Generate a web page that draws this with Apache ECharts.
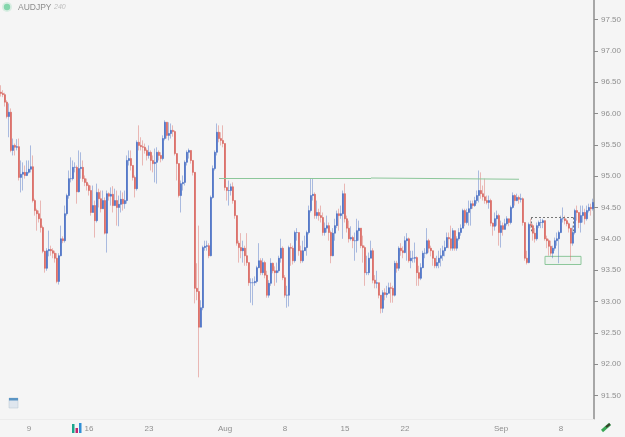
<!DOCTYPE html>
<html>
<head>
<meta charset="utf-8">
<style>
  html, body { margin: 0; padding: 0; background: #f5f5f5; }
  #chart { width: 625px; height: 437px; }
</style>
<script src="https://cdn.jsdelivr.net/npm/echarts@6/dist/echarts.min.js"></script>
</head>
<body>
<div id="chart"></div>
<script>
// AUDJPY, 240-minute candles. Each open continues from the previous close.
const firstOpen = 96.34;

const closes = [
  96.32,96.30,96.18,95.95,96.02,95.41,95.49,95.46,95.47,94.98,
  95.03,95.06,95.01,95.06,95.11,95.15,94.61,94.45,94.40,94.32,
  94.18,93.80,93.53,93.81,93.83,93.81,93.77,93.69,93.32,93.73,
  94.00,93.97,94.40,94.69,94.96,94.96,95.14,95.14,94.75,95.12,
  95.14,94.96,94.90,94.85,94.77,94.42,94.53,94.29,94.74,94.64,
  94.48,94.61,94.09,94.72,94.68,94.71,94.53,94.61,94.50,94.55,
  94.63,94.56,94.61,95.25,95.28,95.17,94.98,94.80,95.54,95.49,
  95.47,95.46,95.41,95.33,95.38,95.25,95.20,95.22,95.38,95.33,
  95.28,95.60,95.86,95.65,95.68,95.73,95.71,95.36,95.20,94.69,
  94.88,94.90,95.22,95.38,95.41,95.25,95.06,93.21,93.16,92.59,
  92.90,93.86,93.88,93.89,93.73,94.66,95.12,95.38,95.70,95.60,
  95.57,95.52,94.82,94.77,94.77,94.83,94.61,94.37,93.93,93.86,
  93.81,93.85,93.73,93.62,93.30,93.30,93.30,93.32,93.54,93.65,
  93.46,93.62,93.42,93.10,93.29,93.61,93.49,93.46,93.49,93.69,
  93.85,93.38,93.10,93.10,93.86,93.85,93.65,94.10,94.10,93.81,
  93.65,93.81,93.86,94.10,94.45,94.69,94.71,94.37,94.42,94.37,
  94.34,94.10,94.17,94.21,94.10,93.73,94.09,94.21,94.40,94.37,
  94.40,94.72,94.32,94.17,94.00,94.02,93.97,93.97,94.13,94.17,
  93.89,93.86,93.46,93.46,93.69,93.81,93.34,93.29,93.30,93.10,
  92.89,93.14,93.11,93.13,93.22,93.21,93.10,93.61,93.53,93.85,
  93.81,93.78,93.97,94.00,93.65,93.69,93.69,93.70,93.46,93.37,
  93.54,93.77,93.77,93.97,93.85,93.81,93.69,93.57,93.62,93.69,
  93.73,93.81,93.86,94.02,94.00,93.85,94.13,93.85,94.00,94.10,
  94.17,94.45,94.26,94.42,94.48,94.56,94.53,94.61,94.69,94.77,
  94.72,94.67,94.61,94.58,94.61,94.25,94.20,94.32,94.37,94.10,
  94.21,94.15,94.24,94.32,94.26,94.50,94.69,94.61,94.66,94.63,
  94.64,94.26,93.69,93.62,94.23,94.21,94.09,94.00,94.21,94.26,
  94.26,94.29,94.00,93.97,93.88,93.77,93.85,93.97,94.00,94.10,
  94.32,94.32,94.29,94.24,94.17,93.93,94.10,94.45,94.42,94.26,
  94.37,94.42,94.32,94.45,94.50,94.48,94.58
];

const highs = [
  96.45,96.37,96.33,96.21,96.16,96.08,95.60,95.52,95.59,95.60,
  95.25,95.22,95.17,95.25,95.25,95.49,95.33,94.64,94.48,94.45,
  94.61,94.21,93.81,93.85,94.13,93.89,93.85,93.81,93.77,93.77,
  94.21,94.04,94.53,94.72,95.09,95.30,95.25,95.22,95.17,95.41,
  95.38,95.25,95.01,94.96,94.88,94.85,94.85,94.61,94.88,94.80,
  94.77,94.77,94.66,94.77,94.74,94.82,94.84,94.80,94.77,94.69,
  94.77,94.74,94.77,95.33,95.41,95.41,95.17,95.01,95.57,95.81,
  95.62,95.57,95.52,95.44,95.49,95.41,95.33,95.44,95.46,95.41,
  95.38,95.65,95.89,95.86,95.86,95.84,95.81,95.73,95.33,95.17,
  94.93,95.01,95.25,95.41,95.44,95.41,95.25,95.06,93.61,94.21,
  93.02,93.89,93.97,93.97,93.93,94.69,95.17,95.41,95.84,95.81,
  95.70,95.81,95.52,94.82,94.93,94.88,94.90,94.61,94.37,93.97,
  94.09,93.97,93.89,94.09,93.62,93.37,93.37,93.40,93.57,93.93,
  93.69,93.69,93.65,93.49,93.34,93.69,93.62,93.56,93.62,93.73,
  94.00,93.88,93.42,93.25,93.89,93.93,93.89,94.13,94.17,94.10,
  93.89,93.97,94.05,94.13,94.53,94.96,94.96,94.74,94.61,94.48,
  94.53,94.42,94.26,94.37,94.26,94.13,94.17,94.32,94.45,94.48,
  94.53,94.77,94.88,94.37,94.29,94.20,94.05,94.10,94.32,94.29,
  94.17,94.05,93.89,93.73,93.78,93.97,93.85,93.42,93.49,93.30,
  93.10,93.18,93.21,93.25,93.30,93.30,93.25,93.65,93.65,93.88,
  93.93,93.88,94.04,94.09,94.02,93.81,93.81,93.94,93.72,93.57,
  93.61,93.81,93.85,94.17,94.00,93.89,93.81,93.69,93.73,93.81,
  93.85,93.89,93.97,94.10,94.10,94.21,94.17,94.05,94.04,94.17,
  94.23,94.48,94.48,94.48,94.61,94.61,94.61,94.67,94.77,95.09,
  95.06,94.85,94.96,94.69,94.69,94.64,94.26,94.42,94.45,94.40,
  94.29,94.26,94.32,94.36,94.32,94.53,94.74,94.71,94.72,94.69,
  94.72,94.66,94.26,93.81,94.26,94.32,94.24,94.17,94.26,94.29,
  94.32,94.32,94.26,94.05,94.00,93.97,93.89,94.02,94.10,94.13,
  94.37,94.50,94.37,94.32,94.26,94.17,94.21,94.48,94.53,94.42,
  94.53,94.53,94.48,94.53,94.56,94.56,94.64
];

const lows = [
  96.27,96.26,96.11,95.92,95.62,95.38,95.33,95.33,95.41,94.93,
  94.74,94.77,94.96,95.00,95.04,95.06,94.58,94.37,94.13,94.26,
  94.10,93.77,93.46,93.49,93.72,93.73,93.69,93.62,93.29,93.27,
  93.72,93.93,93.94,94.37,94.64,94.90,94.93,95.06,94.56,94.74,
  94.96,94.91,94.84,94.77,94.69,94.37,94.42,94.02,94.26,94.50,
  94.42,94.53,94.07,93.78,94.61,94.53,94.42,94.53,94.21,94.20,
  94.42,94.45,94.48,94.56,95.17,95.09,94.93,94.66,94.77,95.41,
  95.41,95.17,95.36,95.25,95.28,95.09,95.06,94.90,94.88,95.25,
  95.22,95.25,95.57,95.60,95.57,95.60,95.63,95.33,94.93,94.66,
  94.42,94.77,94.85,95.17,95.28,95.20,95.01,92.97,93.02,91.79,
  92.62,92.86,93.81,93.81,93.69,93.72,94.64,95.09,95.33,95.54,
  95.49,95.46,94.77,94.61,94.53,94.69,94.56,94.32,93.89,93.62,
  93.69,93.62,93.57,93.57,93.25,92.98,92.94,93.25,93.29,93.53,
  93.42,93.42,93.37,93.06,93.06,93.25,93.45,93.25,93.30,93.46,
  93.62,93.34,93.06,92.90,92.92,93.57,93.59,93.62,93.97,93.73,
  93.61,93.62,93.81,93.73,94.07,94.42,94.61,94.32,94.32,94.29,
  94.26,94.05,94.05,94.10,93.97,93.61,93.72,93.97,94.17,94.13,
  94.32,94.00,94.26,94.10,93.94,93.97,93.85,93.65,93.78,93.97,
  93.85,93.62,93.25,93.42,93.42,93.69,93.29,93.21,93.21,93.05,
  92.81,92.82,93.02,93.06,93.14,92.98,92.98,93.08,93.46,93.49,
  93.73,93.69,93.77,93.65,93.62,93.53,93.62,93.62,93.25,93.25,
  93.34,93.53,93.69,93.75,93.78,93.72,93.57,93.53,93.53,93.53,
  93.56,93.65,93.72,93.85,93.85,93.81,93.81,93.81,93.81,93.97,
  94.05,94.17,94.20,94.23,94.21,94.21,94.48,94.51,94.56,94.58,
  94.64,94.61,94.56,94.55,94.48,94.20,94.05,94.13,94.21,93.89,
  93.86,94.05,94.17,94.21,94.20,94.23,94.48,94.53,94.60,94.56,
  94.58,94.21,93.65,93.59,93.61,94.17,93.97,93.94,93.97,94.17,
  94.17,94.17,93.97,93.85,93.73,93.73,93.69,93.81,93.89,93.61,
  94.09,94.26,94.23,94.20,94.10,93.65,93.89,94.07,94.29,94.17,
  94.10,94.26,94.23,94.29,94.42,94.37,94.45
];

// Date labels along the bottom and the bars they sit under.
const dateTickBars = [14, 44, 74, 112, 142, 172, 202, 250, 280];
const dateTickLabels = ['9', '16', '23', 'Aug', '8', '15', '22', 'Sep', '8'];
const priceTicks = [91.5, 92, 92.5, 93, 93.5, 94, 94.5, 95, 95.5, 96, 96.5, 97, 97.5];

// Hand-drawn annotations: [bar, price] endpoints.
const resistanceLine = [[109, 94.97], [185, 94.97], [259, 94.95]];
const dashedBoxTop = 94.34, dashedBoxSideEnd = 94.12, dashedBoxBars = [265, 286];
const supportBox = { bars: [272, 290], top: 93.72, bottom: 93.59 };

const UP_COLOR = '#4169c2', DOWN_COLOR = '#d8615a';
const UP_WICK = 'rgba(65,105,194,0.42)', DOWN_WICK = 'rgba(216,97,90,0.42)';
const GREEN = '#8cc79a', DASH = '#777777', AXIS_TEXT = '#8f8f8f';

const categories = closes.map((_, i) => 'bar' + i);
const opens = closes.map((_, i) => (i === 0 ? firstOpen : closes[i - 1]));
const ohlc = closes.map((c, i) => [
  opens[i], c,
  Math.min(lows[i], opens[i], c),
  Math.max(highs[i], opens[i], c)
]);
// Bodies are drawn on top of the paler full-range wicks.
const bodies = closes.map((c, i) => [opens[i], c, Math.min(opens[i], c), Math.max(opens[i], c)]);
const labelFor = new Map(dateTickBars.map((b, k) => [b, dateTickLabels[k]]));

const segment = (a, b, style) => [
  { coord: a, lineStyle: style },
  { coord: b }
];

const chart = echarts.init(document.getElementById('chart'), null, { renderer: 'canvas' });
chart.setOption({
  animation: false,
  backgroundColor: '#f5f5f5',
  textStyle: { fontFamily: '"Liberation Sans", Arial, sans-serif' },
  grid: { left: 0, right: 31, top: 0, bottom: 18 },
  xAxis: {
    type: 'category',
    data: categories,
    boundaryGap: true,
    axisLine: { lineStyle: { color: '#ececec', width: 1 } },
    axisTick: { show: false },
    splitLine: { show: false },
    axisLabel: {
      interval: (i) => labelFor.has(i),
      formatter: (_, i) => labelFor.get(i) || '',
      color: AXIS_TEXT,
      fontSize: 8,
      margin: 6,
      hideOverlap: false
    }
  },
  yAxis: {
    type: 'value',
    position: 'right',
    min: 91.125,
    max: 97.81,
    scale: true,
    axisLine: { show: true, lineStyle: { color: '#8c8c8c', width: 1.5 } },
    axisTick: { show: true, length: 4, inside: false, customValues: priceTicks, lineStyle: { color: '#8c8c8c' } },
    splitLine: { show: false },
    axisLabel: {
      customValues: priceTicks,
      formatter: (v) => v.toFixed(2),
      color: AXIS_TEXT,
      fontSize: 8,
      margin: 7
    }
  },
  series: [{
    type: 'candlestick',
    name: 'AUDJPY range',
    data: ohlc,
    barWidth: 1,
    large: false,
    progressive: 0,
    clip: true,
    itemStyle: {
      color: UP_WICK,
      color0: DOWN_WICK,
      borderColor: UP_WICK,
      borderColor0: DOWN_WICK,
      borderWidth: 1
    },
    markLine: {
      silent: true,
      symbol: 'none',
      animation: false,
      label: { show: false },
      data: [
        segment(resistanceLine[0], resistanceLine[1], { color: GREEN, width: 1, type: 'solid' }),
        segment(resistanceLine[1], resistanceLine[2], { color: GREEN, width: 1, type: 'solid' }),
        segment([dashedBoxBars[0], dashedBoxTop], [dashedBoxBars[1], dashedBoxTop], { color: DASH, width: 1, type: [2, 2] }),
        segment([dashedBoxBars[0], dashedBoxTop], [dashedBoxBars[0], dashedBoxSideEnd], { color: DASH, width: 1, type: [2, 2] }),
        segment([dashedBoxBars[1], dashedBoxTop], [dashedBoxBars[1], dashedBoxSideEnd], { color: DASH, width: 1, type: [2, 2] })
      ]
    },
    markArea: {
      silent: true,
      animation: false,
      label: { show: false },
      itemStyle: { color: 'rgba(140,199,154,0.06)', borderColor: GREEN, borderWidth: 1 },
      data: [[
        { coord: [supportBox.bars[0], supportBox.top] },
        { coord: [supportBox.bars[1], supportBox.bottom] }
      ]]
    }
  }, {
    type: 'candlestick',
    name: 'AUDJPY body',
    data: bodies,
    barWidth: 2,
    large: false,
    progressive: 0,
    clip: true,
    itemStyle: {
      color: UP_COLOR,
      color0: DOWN_COLOR,
      borderColor: UP_COLOR,
      borderColor0: DOWN_COLOR,
      borderWidth: 0.6
    }
  }],
  graphic: [
    // Symbol status dot and title
    { type: 'circle', shape: { cx: 7, cy: 7, r: 3.2 }, style: { fill: '#85d6ad' }, silent: true },
    { type: 'circle', shape: { cx: 7, cy: 7, r: 5 }, style: { fill: 'rgba(133,214,173,0.25)' }, silent: true },
    { type: 'text', left: 18, top: 3, style: { text: 'AUDJPY', fill: '#8d8d8d', font: '8.5px "Liberation Sans", Arial, sans-serif' }, silent: true },
    { type: 'text', left: 54, top: 4, style: { text: '240', fill: '#bdbdbd', font: 'italic 7px "Liberation Sans", Arial, sans-serif' }, silent: true },
    // Calendar button
    { type: 'rect', shape: { x: 9, y: 398, width: 9, height: 10 }, style: { fill: '#dfe6ee', stroke: '#b7c4d1', lineWidth: 0.5 }, silent: true },
    { type: 'rect', shape: { x: 9, y: 398, width: 9, height: 2.5 }, style: { fill: '#5b95c4' }, silent: true },
    // Bar-chart button beside the "16" label
    { type: 'rect', shape: { x: 72, y: 424, width: 2.5, height: 9 }, style: { fill: '#1ba58c' }, silent: true },
    { type: 'rect', shape: { x: 75.5, y: 428, width: 2.5, height: 5 }, style: { fill: '#c0266d' }, silent: true },
    { type: 'rect', shape: { x: 79, y: 423, width: 2.5, height: 10 }, style: { fill: '#2f8fd6' }, silent: true },
    // Pencil button in the corner
    { type: 'line', shape: { x1: 602, y1: 431, x2: 610, y2: 424 }, style: { stroke: '#3aa655', lineWidth: 3 }, silent: true },
    { type: 'line', shape: { x1: 606, y1: 427, x2: 610, y2: 424 }, style: { stroke: '#3a3a2a', lineWidth: 2 }, silent: true }
  ]
});
</script>
</body>
</html>
